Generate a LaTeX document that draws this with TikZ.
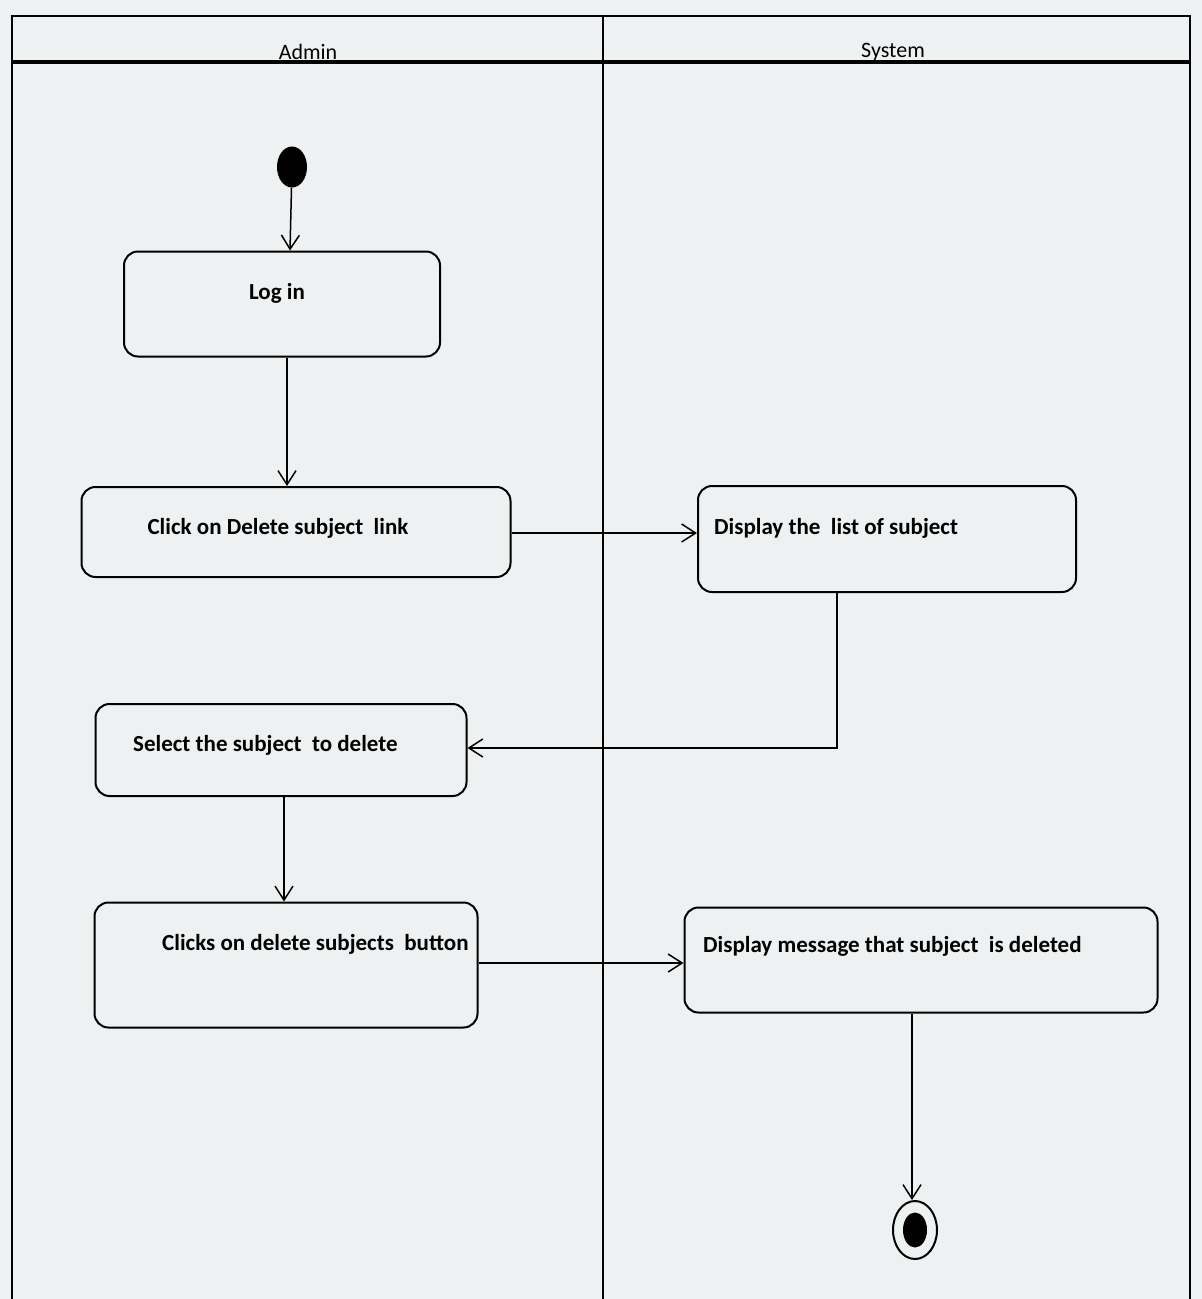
\documentclass[tikz,border=0pt]{standalone}
\usepackage{fontspec}
\setmainfont{Carlito}
\usetikzlibrary{arrows.meta,shapes.geometric}
\definecolor{paper}{HTML}{EDF1F1}
\begin{document}
\begin{tikzpicture}[x=1pt,y=-1pt]
\tikzstyle{every node}=[]
\tikzstyle{activity}=[draw, rounded corners=14pt, line width=2pt, fill=paper, inner sep=0pt]
\tikzstyle{caption}=[font=\fontsize{23}{27}\selectfont\bfseries, inner sep=0pt]
\tikzstyle{lane}=[font=\fontsize{22}{26}\selectfont, inner sep=0pt]
\tikzstyle{flow}=[line width=1.5pt, -{Straight Barb[length=14pt,width=18pt,line width=1.5pt]}]

\useasboundingbox (0,0) rectangle (1202,1299);
\fill[paper] (0,0) rectangle (1202,1299);

% swimlanes
\draw[line width=2pt] (12,1299) -- (12,16) -- (1190,16) -- (1190,1299);
\draw[line width=3.5pt] (12,62) -- (1190,62);
\draw[line width=2pt] (603,16) -- (603,1299);
\node[lane] (admin)  at (308,52) {Admin};
\node[lane] (system) at (893,52) {System};

% activities
\node[activity, minimum width=316pt, minimum height=105pt] (login)  at (282,304) {};
\node[activity, minimum width=429pt, minimum height=90pt]  (click)  at (296,532) {};
\node[activity, minimum width=378pt, minimum height=106pt] (list)   at (887,539) {};
\node[activity, minimum width=371pt, minimum height=92pt]  (select) at (281,750) {};
\node[activity, minimum width=383pt, minimum height=125pt] (button) at (286,965) {};
\node[activity, minimum width=473pt, minimum height=105pt] (msg)    at (921,960) {};

\node[caption] (tlogin)  at (277,293) {Log in};
\node[caption] (tclick)  at (278,528) {Click on Delete subject\ \ link};
\node[caption, anchor=west] (tlist)   at (714,528) {Display the\ \ list of subject};
\node[caption, anchor=west] (tselect) at (133,745) {Select the subject\ \ to delete};
\node[caption, anchor=west] (tbutton) at (162,944) {Clicks on delete subjects\ \ button};
\node[caption, anchor=west] (tmsg)    at (703,946) {Display message that subject\ \ is deleted};

% start and end
\node[ellipse, fill=black, minimum width=30pt, minimum height=41pt, inner sep=0pt] (start) at (292,167) {};
\node[ellipse, draw, line width=2pt, fill=paper, minimum width=44pt, minimum height=58pt, inner sep=0pt] (end) at (915,1230) {};
\node[ellipse, fill=black, minimum width=24pt, minimum height=35pt, inner sep=0pt] (endin) at (915,1230) {};

% flows
\draw[flow] (start) -- (login.north -| 290,0);
\draw[flow] (login.south -| 287,0) -- (click.north -| 287,0);
\draw[flow] (click.east |- 0,533) -- (list.west |- 0,533);
\draw[flow] (list.south -| 837,0) |- (select.east |- 0,748);
\draw[flow] (select.south -| 284,0) -- (button.north -| 284,0);
\draw[flow] (button.east |- 0,963) -- (msg.west |- 0,963);
\draw[flow] (msg.south -| 912,0) -- (end.north -| 912,0);
\end{tikzpicture}
\end{document}
